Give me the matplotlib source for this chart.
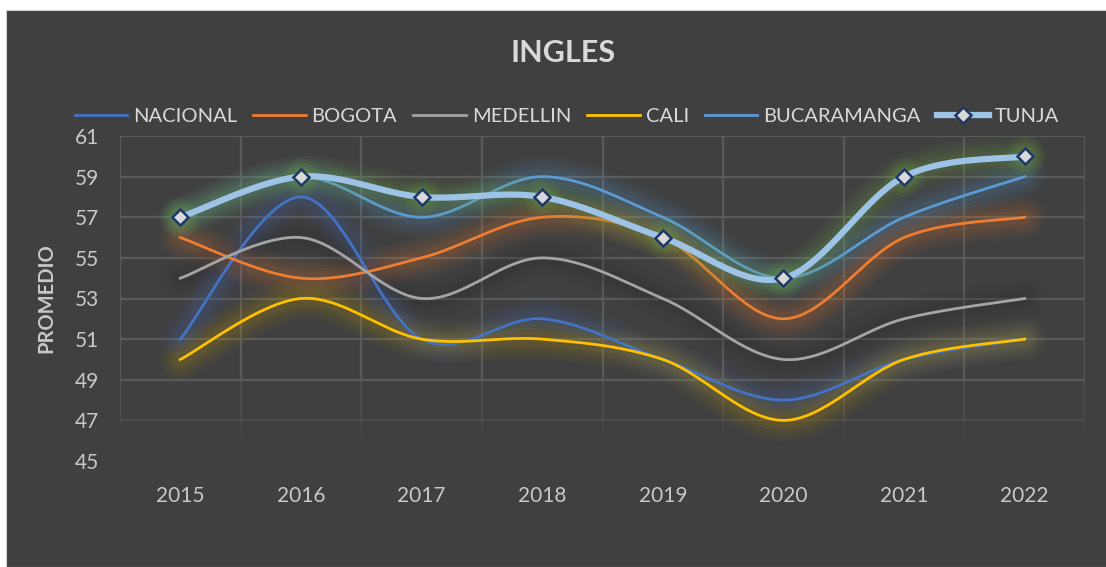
import numpy as np
import matplotlib.pyplot as plt
from matplotlib.patches import Rectangle
from matplotlib.lines import Line2D

years = ["2015", "2016", "2017", "2018", "2019", "2020", "2021", "2022"]
nacional = [51, 58, 51, 52, 50, 48, 50, 51]
bogota = [56, 54, 55, 57, 56, 52, 56, 57]
medellin = [54, 56, 53, 55, 53, 50, 52, 53]
cali = [50, 53, 51, 51, 50, 47, 50, 51]
bucaramanga = [57, 59, 57, 59, 57, 54, 57, 59]
tunja = [57, 59, 58, 58, 56, 54, 59, 60]

plt.rcParams["font.family"] = ["Lato", "DejaVu Sans"]
TXT = "#D9D9D9"
BG = "#404040"


def smooth(y, n=40):
    # bezier segments with catmull-rom control points (like excel smoothed lines)
    x = np.arange(len(y), dtype=float)
    y = np.asarray(y, dtype=float)
    px = np.concatenate([[x[0]], x, [x[-1]]])
    py = np.concatenate([[y[0]], y, [y[-1]]])
    xs, ys = [], []
    t = np.linspace(0, 1, n)
    for i in range(len(y) - 1):
        p0 = np.array([px[i + 1], py[i + 1]])
        p3 = np.array([px[i + 2], py[i + 2]])
        c1 = p0 + (p3 - np.array([px[i], py[i]])) / 6
        c2 = p3 - (np.array([px[i + 3], py[i + 3]]) - p0) / 6
        b = ((1 - t) ** 3)[:, None] * p0 + (3 * (1 - t) ** 2 * t)[:, None] * c1 \
            + (3 * (1 - t) * t ** 2)[:, None] * c2 + (t ** 3)[:, None] * p3
        xs.append(b[:, 0])
        ys.append(b[:, 1])
    return np.concatenate(xs), np.concatenate(ys)


fig = plt.figure(figsize=(11.06, 5.67), dpi=100)
fig.patch.set_facecolor("white")
bg = Rectangle((6 / 1106, 0), 1, 1 - 10 / 567, transform=fig.transFigure,
               facecolor=BG, edgecolor="#D0D0D0", lw=0.8, zorder=-5)
fig.add_artist(bg)

ax = fig.add_axes([120 / 1106, 1 - 461 / 567, 965 / 1106, 325 / 567], zorder=2)
ax.patch.set_alpha(0)
for s in ax.spines.values():
    s.set_visible(False)

ax.set_xlim(-0.5, 7.5)
ax.set_ylim(45, 61)

# gridlines fade out toward the bottom
for v in range(45, 62, 2):
    a = 1.0 if v >= 49 else (0.45 if v == 47 else 0.0)
    ax.axhline(v, color="#5A5A5A", lw=1.6, alpha=a, zorder=1)
for gx in np.arange(-0.5, 8, 1):
    ax.plot([gx, gx], [49, 61], color="#5A5A5A", lw=1.6, zorder=1)
    ax.plot([gx, gx], [47, 49], color="#5A5A5A", lw=1.6, alpha=0.5, zorder=1)
    ax.plot([gx, gx], [46.2, 47], color="#5A5A5A", lw=1.6, alpha=0.2, zorder=1)

series = [
    ("NACIONAL", nacional, "#4472C4", "#4472C4"),
    ("BOGOTA", bogota, "#ED7D31", "#ED7D31"),
    ("MEDELLIN", medellin, "#A5A5A5", "#2A2A2A"),
    ("CALI", cali, "#FFC000", "#C9A000"),
    ("BUCARAMANGA", bucaramanga, "#5B9BD5", "#5B9BD5"),
]

glow_layers = [(30, 0.035), (25, 0.04), (20, 0.05), (15, 0.06), (10, 0.07)]

handles = []
for name, vals, col, glow in series:
    sx, sy = smooth(vals)
    for w, a in glow_layers:
        ax.plot(sx, sy, color=glow, lw=w, alpha=a, solid_capstyle="round", zorder=2)
    ax.plot(sx, sy, color=col, lw=2.0, zorder=3)
    handles.append(Line2D([], [], color=col, lw=2.0, label=name))

sx, sy = smooth(tunja)
for w, a in glow_layers:
    ax.plot(sx, sy, color="#70AD47", lw=w, alpha=a + 0.01, solid_capstyle="round", zorder=4)
for ms, a in [(28, 0.08), (22, 0.1), (16, 0.12)]:
    ax.plot(range(len(tunja)), tunja, "o", ms=ms, mew=0, color="#70AD47", alpha=a,
            ls="none", zorder=4)
ax.plot(sx, sy, color="#9DC3E6", lw=4.5, zorder=5)
ax.plot(range(len(tunja)), tunja, "D", ms=8.5, mfc="#D9D9D9", mec="#1F3864",
        mew=1.8, ls="none", zorder=6)
handles.append(Line2D([], [], color="#9DC3E6", lw=4.5, marker="D", ms=8.5,
                      mfc="#D9D9D9", mec="#1F3864", mew=1.8, label="TUNJA"))

ax.set_xticks(range(len(years)))
ax.set_xticklabels(years)
ax.set_yticks(range(45, 62, 2))
ax.tick_params(length=0, colors="#C8C8C8", labelsize=15)
ax.tick_params(axis="x", pad=18)
ax.tick_params(axis="y", pad=15)
ax.set_ylabel("PROMEDIO", color="#C8C8C8", fontsize=14.5, fontweight="bold", labelpad=13)

fig.text(563 / 1106, 1 - 53 / 567, "INGLES", color=TXT, fontsize=22,
         fontweight="bold", ha="center", va="center")

fig.legend(handles=handles, loc="center", bbox_to_anchor=(567 / 1106, 1 - 116 / 567),
           ncol=6, frameon=False, fontsize=14.5, labelcolor=TXT,
           handlelength=2.6, handletextpad=0.3, columnspacing=0.8)

fig.savefig("out.png", dpi=100, facecolor=fig.get_facecolor())
